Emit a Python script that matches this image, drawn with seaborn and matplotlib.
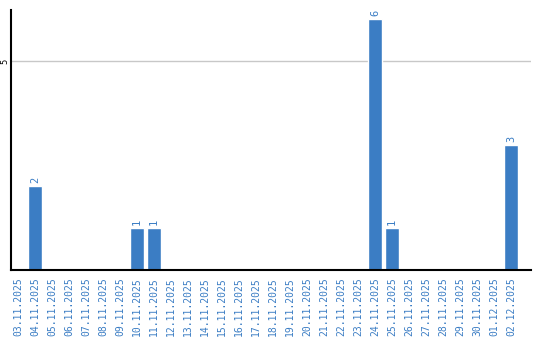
import matplotlib
matplotlib.use("Agg")
import matplotlib.pyplot as plt
import seaborn as sns
import pandas as pd

dates = ["03.11.2025", "04.11.2025", "05.11.2025", "06.11.2025", "07.11.2025",
         "08.11.2025", "09.11.2025", "10.11.2025", "11.11.2025", "12.11.2025",
         "13.11.2025", "14.11.2025", "15.11.2025", "16.11.2025", "17.11.2025",
         "18.11.2025", "19.11.2025", "20.11.2025", "21.11.2025", "22.11.2025",
         "23.11.2025", "24.11.2025", "25.11.2025", "26.11.2025", "27.11.2025",
         "28.11.2025", "29.11.2025", "30.11.2025", "01.12.2025", "02.12.2025"]
counts = [0, 2, 0, 0, 0, 0, 0, 1, 1, 0,
          0, 0, 0, 0, 0, 0, 0, 0, 0, 0,
          0, 6, 1, 0, 0, 0, 0, 0, 0, 3]
yticks = [5]

blue = "#3b7dc4"
df = pd.DataFrame({"date": dates, "count": counts})

sns.set_theme(style="white")
plt.rcParams["font.family"] = ["DejaVu Sans"]

fig = plt.figure(figsize=(5.4, 3.4), dpi=100)
ax = fig.add_axes([11/540, 1 - 270/340, 520/540, 260/340])
sns.barplot(data=df, x="date", y="count", color=blue, saturation=1,
            width=0.82, ax=ax)

for i, v in enumerate(counts):
    if v > 0:
        ax.text(i, v + 0.07, str(v), rotation=90, ha="center", va="bottom",
                color=blue, fontsize=7.5, family="DejaVu Sans Mono")

ax.set_xlim(-0.41, 30.18)
ax.set_ylim(0, 6.22)
ax.set_yticks(yticks)
ax.set_yticklabels([str(t) for t in yticks], rotation=90, va="center",
                   fontsize=6, color="black")
ax.tick_params(axis="y", length=0, pad=1)
ax.tick_params(axis="x", length=0, pad=5)
ax.set_xticks(range(len(dates)))
ax.set_xticklabels(dates, rotation=90, fontsize=7, color=blue,
                   family="DejaVu Sans Mono")
ax.set_xlabel("")
ax.set_ylabel("")
ax.yaxis.grid(True, color="#c8c8c8", linewidth=1)
ax.set_axisbelow(True)
for s in ["top", "right"]:
    ax.spines[s].set_visible(False)
for s in ["left", "bottom"]:
    ax.spines[s].set_color("black")
    ax.spines[s].set_linewidth(1.5)

fig.savefig("out.png", dpi=100)
